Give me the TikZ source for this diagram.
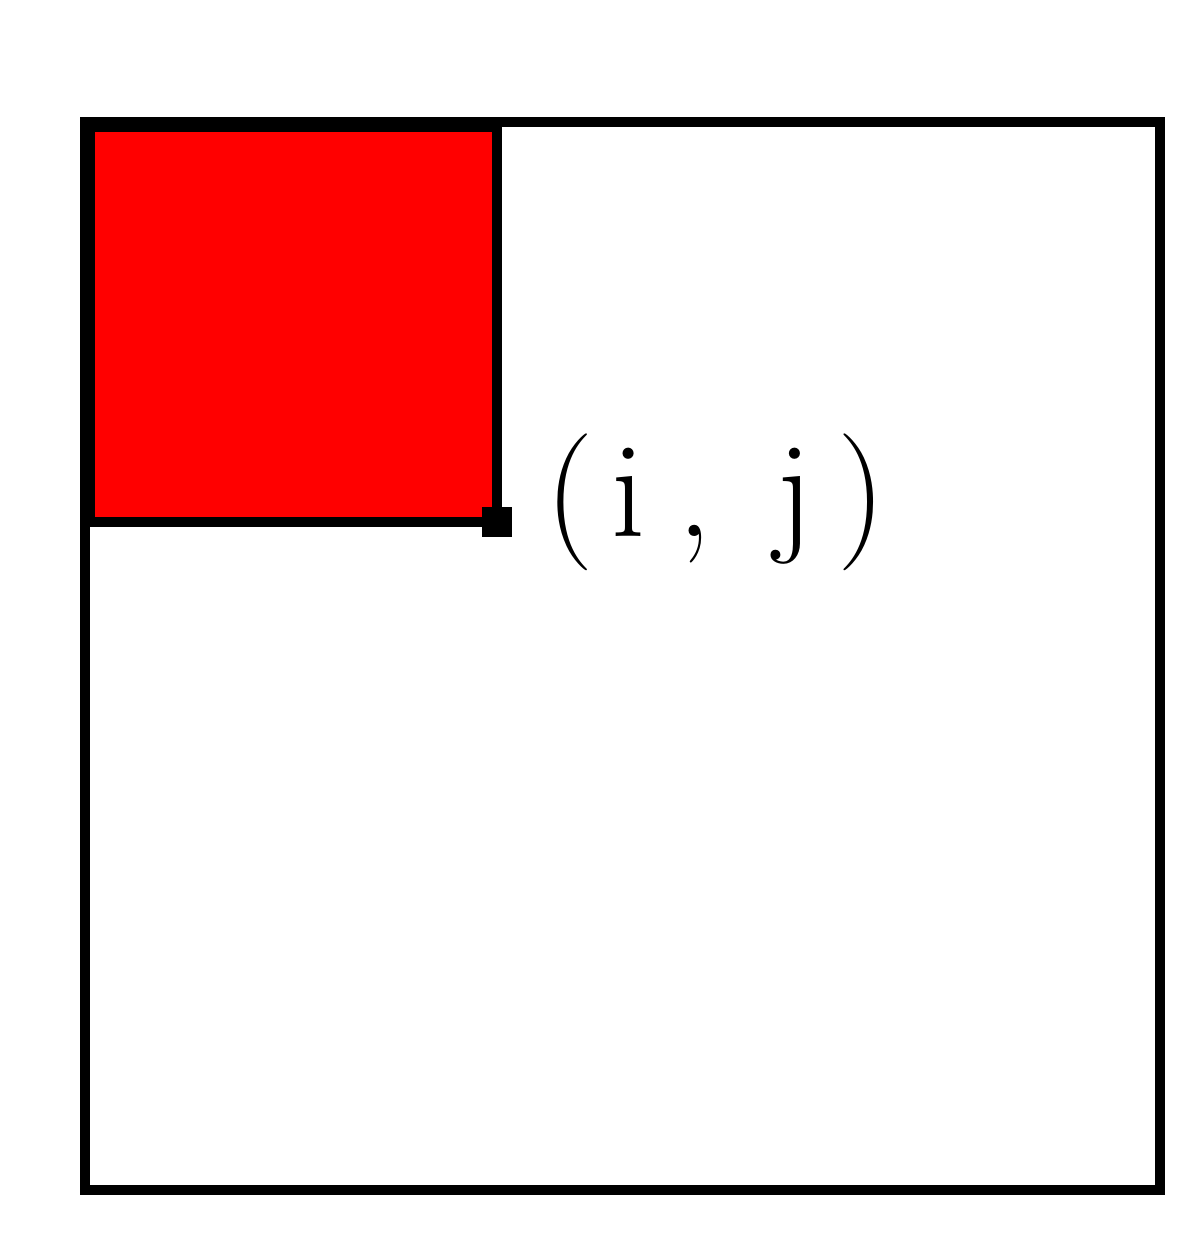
\documentclass[tikz,border=0pt]{standalone}
\usepackage{tikz}
\usepackage{xcolor}
\begin{document}
\begin{tikzpicture}%
  \tikzstyle{outer}=[draw=black,line width=2.8pt]
  \tikzstyle{block}=[draw=black,fill=red,line width=2.8pt]
  \tikzstyle{dot}=[rectangle,fill=black,minimum size=0.3cm,inner sep=0]
  \useasboundingbox (0,0) rectangle (12,12.37);
  \draw[outer] (0.85,0.47) rectangle (11.6,11.15);
  \draw[block] (0.9,7.15) coordinate (bl) rectangle (4.97,11.1) coordinate (tr);
  \node(corner)[dot] at (4.97,7.15) {};
  \node(lab)[anchor=base west,inner sep=0,font=\fontsize{39}{47}\selectfont]
    at (5.45,7.0) {(\kern5pt i\kern9pt,\kern18pt j\kern7pt)};
\end{tikzpicture}
\end{document}
